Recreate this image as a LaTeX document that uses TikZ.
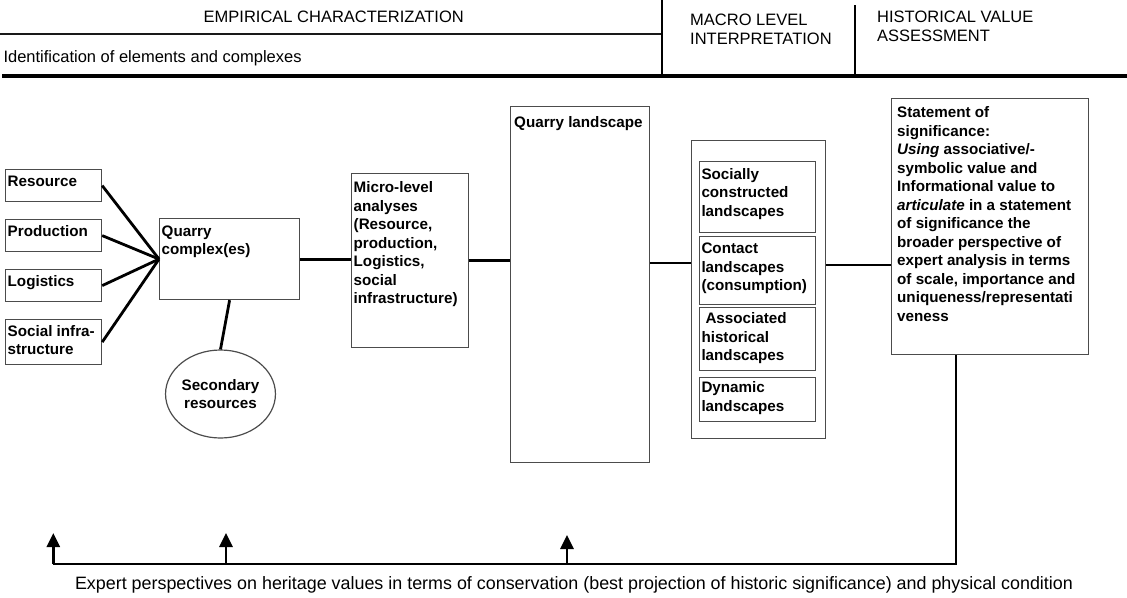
\documentclass[tikz,border=0pt]{standalone}
\usepackage{fontspec}
\setmainfont{Liberation Sans}
\usetikzlibrary{shapes.geometric,arrows.meta,calc}
\begin{document}
\begin{tikzpicture}[x=1pt,y=-1pt,
  box/.style={draw=black!70, line width=1.2pt, rectangle, inner sep=0pt, anchor=north west},
  btxt/.style={anchor=base west, inner sep=0pt, align=left, font=\fontsize{15.2}{18.5}\selectfont\bfseries},
  htxt/.style={anchor=base west, inner sep=0pt, align=left, font=\fontsize{16.5}{18.5}\selectfont},
  conn/.style={line width=2.8pt},
  hline/.style={line width=2.8pt, draw=black!90},
  arr/.style={line width=2.8pt, -{Triangle[width=13pt,length=14pt]}}]
\useasboundingbox (0,0) rectangle (1127,597);

% header
\coordinate (h1) at (0,34);
\coordinate (h2) at (662,34);
\coordinate (h3) at (662,0);
\coordinate (h4) at (662,76);
\coordinate (h5) at (855,5);
\coordinate (h6) at (855,76);
\coordinate (h7) at (2,76);
\coordinate (h8) at (1127,76);
\draw[hline] (h1) -- (h2);
\draw[line width=2pt] (h3) -- (h4);
\draw[line width=2pt] (h5) -- (h6);
\draw[line width=3.2pt] (h7) -- (h8);
\node[htxt] (t1) at (203.5,22.7) {EMPIRICAL CHARACTERIZATION};
\node[htxt] (t2) at (3.3,62) {Identification of elements and complexes};
\node[htxt] (t3) at (690,44.3) {MACRO LEVEL\\INTERPRETATION};
\node[htxt] (t4) at (877,41.5) {HISTORICAL VALUE\\ASSESSMENT};

% left boxes
\node[box, minimum width=96pt, minimum height=32pt] (res) at (5,169) {};
\node[btxt] (rest) at (7.5,186) {Resource};
\node[box, minimum width=96pt, minimum height=32pt] (prod) at (5,219) {};
\node[btxt] (prodt) at (7.5,236) {Production};
\node[box, minimum width=96pt, minimum height=32pt] (logi) at (5,269) {};
\node[btxt] (logit) at (7.5,286) {Logistics};
\node[box, minimum width=96pt, minimum height=45pt] (soc) at (5,319) {};
\node[btxt] (soct) at (7.5,354.5) {Social infra-\\structure};

% quarry complex
\node[box, minimum width=140pt, minimum height=81pt] (qc) at (159,218) {};
\node[btxt] (qct) at (161.5,254.5) {Quarry\\complex(es)};
\node[draw=black!70, line width=1.2pt, ellipse, minimum width=101pt, minimum height=88pt, inner sep=0pt,
      align=center, font=\fontsize{15.2}{18.5}\selectfont\bfseries] (sec) at (220.5,394) {Secondary\\resources};

% micro level
\node[box, minimum width=117pt, minimum height=174pt] (micro) at (351,173) {};
\node[btxt] (microt) at (353.5,303.5) {Micro-level\\analyses\\(Resource,\\production,\\Logistics,\\social\\infrastructure)};

% quarry landscape
\node[box, minimum width=139pt, minimum height=356pt] (ql) at (510,106) {};
\node[btxt] (qlt) at (514,127) {Quarry landscape};

% landscapes group
\node[box, minimum width=134pt, minimum height=298pt] (outer) at (691,140) {};
\node[box, minimum width=116pt, minimum height=71pt] (in1) at (699,161) {};
\node[btxt] (in1t) at (701.3,216) {Socially\\constructed\\landscapes};
\node[box, minimum width=116pt, minimum height=68pt] (in2) at (699,236) {};
\node[btxt] (in2t) at (701.3,290.6) {Contact\\landscapes\\(consumption)};
\node[box, minimum width=116pt, minimum height=63pt] (in3) at (699,307) {};
\node[btxt] (in3t) at (701.3,360.6) {\hspace*{4pt}Associated\\historical\\landscapes};
\node[box, minimum width=116pt, minimum height=44pt] (in4) at (699,377) {};
\node[btxt] (in4t) at (701.3,411.1) {Dynamic\\landscapes};

% statement
\node[box, minimum width=197pt, minimum height=256pt] (stmt) at (891,98) {};
\node[btxt] (stmtt) at (897,321.1) {Statement of\\significance:\\\textit{Using} associative/-\\symbolic value and\\Informational value to\\\textit{articulate} in a statement\\of significance the\\broader perspective of\\expert analysis in terms\\of scale, importance and\\uniqueness/representati\\veness};

% connectors
\draw[conn] (res.east) -- (qc.west);
\draw[conn] (prod.east) -- (qc.west);
\draw[conn] (logi.east) -- (qc.west);
\draw[conn] (soc.east) -- (qc.west);
\draw[conn] (qc.south) -- (sec.north);
\draw[conn] (qc.east) -- (qc.east -| micro.west);
\draw[conn] (micro.east) -- (micro.east -| ql.west);
\coordinate (lv1) at (0,263);
\coordinate (lv2) at (0,265);
\draw[conn] (ql.east |- lv1) -- (outer.west |- lv1);
\draw[conn] (outer.east |- lv2) -- (stmt.west |- lv2);

% bottom feedback
\coordinate (br) at (956,564);
\coordinate (b1) at (53.3,564);
\coordinate (b2) at (226,564);
\coordinate (b3) at (567,564);
\coordinate (a1) at (53.3,533);
\coordinate (a2) at (226,533);
\coordinate (a3) at (567,535);
\draw[conn, line join=miter] (br |- stmt.south) -- (br) -- (b1);
\draw[arr] (b1) -- (a1);
\draw[arr] (b2) -- (a2);
\draw[arr] (b3) -- (a3);
\node[htxt, anchor=base, font=\fontsize{17.9}{20}\selectfont] (bt) at (574,589) {Expert perspectives on heritage values in terms of conservation (best projection of historic significance) and physical condition};
\end{tikzpicture}
\end{document}
